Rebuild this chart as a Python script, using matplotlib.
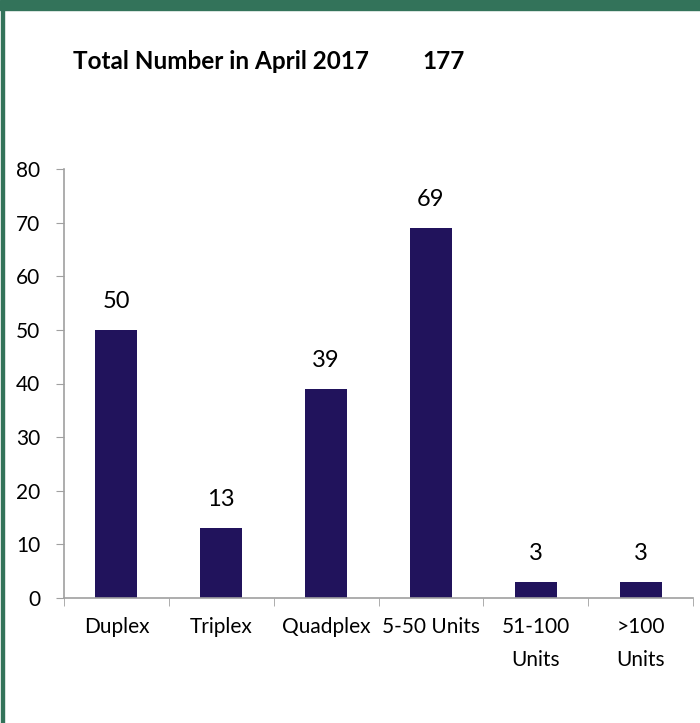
import matplotlib.pyplot as plt
from matplotlib.patches import Rectangle

categories = ['Duplex', 'Triplex', 'Quadplex', '5-50 Units', '51-100\nUnits', '>100\nUnits']
counts = [50, 13, 39, 69, 3, 3]
title_text = 'Total Number in April 2017'
total = 177

bar_color = '#21135c'
green = '#33735a'
axis_gray = '#a0a0a0'

plt.rcParams['font.family'] = ['Lato', 'DejaVu Sans']

fig = plt.figure(figsize=(7.0, 7.23), dpi=100)
W, H = 700, 723

# frame: green top band and left border
fig.patches.append(Rectangle((0, 1 - 9.5 / H), 1, 9.5 / H, transform=fig.transFigure,
                             color=green, zorder=0))
fig.patches.append(Rectangle((1 / W, 0), 3 / W, 1, transform=fig.transFigure,
                             color=green, zorder=0))

fig.text(73 / W, 1 - 69 / H, title_text, fontsize=17.5, fontweight='bold', va='baseline')
fig.text(422 / W, 1 - 69 / H, str(total), fontsize=17.5, fontweight='bold', va='baseline')

ax = fig.add_axes([64 / W, 1 - 598 / H, (693 - 64) / W, (598 - 169) / H])
x = range(len(categories))
bars = ax.bar(x, counts, width=0.4, color=bar_color)
for b, v in zip(bars, counts):
    ax.text(b.get_x() + b.get_width() / 2, v + 5.3, str(v), ha='center', va='center',
            fontsize=17)

ax.set_xlim(-0.5, len(categories) - 0.5)
ax.set_ylim(0, 80)
ax.set_yticks(range(0, 81, 10))
ax.set_xticks(x)
ax.set_xticklabels(categories, fontsize=15, linespacing=1.8, va='top')
ax.set_xticks([i - 0.5 for i in range(len(categories) + 1)], minor=True)
ax.tick_params(axis='x', which='major', length=0, pad=14)
ax.tick_params(axis='x', which='minor', length=6, color=axis_gray, direction='out')
ax.tick_params(axis='y', length=6, color=axis_gray, direction='out', labelsize=15, pad=11)

for s in ['top', 'right']:
    ax.spines[s].set_visible(False)
for s in ['left', 'bottom']:
    ax.spines[s].set_color(axis_gray)
    ax.spines[s].set_linewidth(1.2)

fig.savefig('out.png', dpi=100)
